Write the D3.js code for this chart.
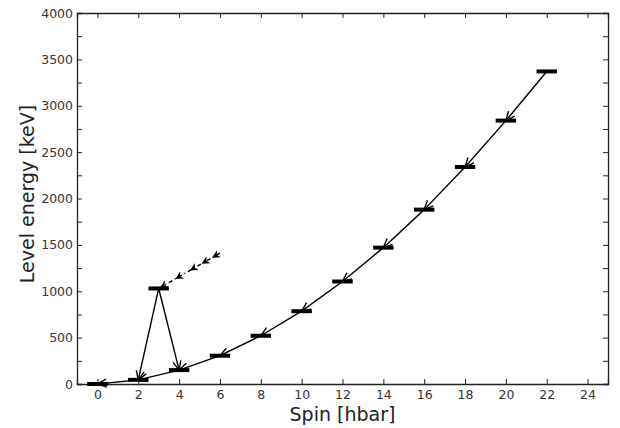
<!DOCTYPE html>
<html>
<head>
<meta charset="utf-8">
<script src="https://cdn.jsdelivr.net/npm/d3@7"></script>
<style>
  body { margin: 0; background: #fff; }
  svg text { font-family: "DejaVu Sans", sans-serif; }
</style>
</head>
<body>
<div id="content"></div>
<script>
// Yrast band levels (spin, energy in keV), top to bottom
var bandSpin = [22, 20, 18, 16, 14, 12, 10, 8, 6, 4, 2, 0];
var bandEnergy = [3370, 2840, 2340, 1880, 1470, 1105, 785, 520, 305, 150, 45, 0];

// Side level at spin 3 and where it decays to
var sideSpin = 3;
var sideEnergy = 1030;
var sideTargets = [2, 4];

// Dashed feeding into the side level (start point and arrow positions along it)
var feedStart = [6, 1410];
var feedArrowAt = [0.13, 0.3, 0.49, 0.73, 0.98];

var xTicks = d3.range(0, 25, 2);
var yTicks = d3.range(0, 4001, 250);

var W = 620, H = 428;
var margin = {left: 77, right: 12, top: 13, bottom: 44};

var svg = d3.select('#content').append('svg')
    .attr('width', W)
    .attr('height', H);

var x = d3.scaleLinear().domain([-1, 25]).range([margin.left, W - margin.right]);
var y = d3.scaleLinear().domain([0, 4000]).range([H - margin.bottom, margin.top]);

// open arrowhead for the gamma lines
var defs = svg.append('defs');
defs.append('marker')
    .attr('id', 'open')
    .attr('markerUnits', 'userSpaceOnUse')
    .attr('viewBox', '-10 -5 12 10')
    .attr('refX', 0).attr('refY', 0)
    .attr('markerWidth', 12).attr('markerHeight', 10)
    .attr('orient', 'auto')
    .append('path')
    .attr('d', 'M-9,-4 L0,0 L-9,4')
    .attr('fill', 'none')
    .attr('stroke', '#000')
    .attr('stroke-width', 1.4);

// axes (ticks point inward)
var gx = svg.append('g')
    .attr('transform', 'translate(0,' + y(0) + ')')
    .call(d3.axisBottom(x).tickValues(xTicks).tickSize(-5).tickPadding(6));
var gxTop = svg.append('g')
    .attr('transform', 'translate(0,' + y(4000) + ')')
    .call(d3.axisTop(x).tickValues(xTicks).tickSize(-5).tickFormat(''));
var gy = svg.append('g')
    .attr('transform', 'translate(' + x(-1) + ',0)')
    .call(d3.axisLeft(y).tickValues(yTicks).tickSize(-5).tickPadding(4)
        .tickFormat(function(d) { return d % 500 === 0 ? d : ''; }));
var gyRight = svg.append('g')
    .attr('transform', 'translate(' + x(25) + ',0)')
    .call(d3.axisRight(y).tickValues(yTicks).tickSize(-5).tickFormat(''));

[gx, gxTop, gy, gyRight].forEach(function(g) {
    g.select('.domain').attr('stroke', '#222').attr('stroke-width', 1.3);
    g.selectAll('.tick line').attr('stroke', '#222');
    g.selectAll('text').attr('font-size', 12.5).attr('fill', '#333')
        .attr('font-family', '"DejaVu Sans", sans-serif');
});

// axis titles
svg.append('text')
    .attr('x', (x(-1) + x(25)) / 2)
    .attr('y', 421)
    .attr('text-anchor', 'middle')
    .attr('font-size', 19)
    .attr('fill', '#222')
    .text('Spin [hbar]');
svg.append('text')
    .attr('transform', 'translate(34,194) rotate(-90)')
    .attr('text-anchor', 'middle')
    .attr('font-size', 19)
    .attr('fill', '#222')
    .text('Level energy [keV]');

// transitions in the band
var band = bandSpin.map(function(s, i) { return {spin: s, e: bandEnergy[i]}; });
var links = [];
for (var i = 0; i < band.length - 1; i++) {
    links.push({from: band[i], to: band[i + 1]});
}
sideTargets.forEach(function(t) {
    var j = bandSpin.indexOf(t);
    links.push({from: {spin: sideSpin, e: sideEnergy}, to: band[j]});
});

svg.selectAll('line.gamma')
    .data(links)
    .enter()
    .append('line')
    .attr('class', 'gamma')
    .attr('x1', function(d) { return x(d.from.spin); })
    .attr('y1', function(d) { return y(d.from.e); })
    .attr('x2', function(d) { return x(d.to.spin); })
    .attr('y2', function(d) { return y(d.to.e); })
    .attr('stroke', '#000')
    .attr('stroke-width', 1.4)
    .attr('marker-end', 'url(#open)');

// dashed feeding line with small arrowheads
var fx1 = x(feedStart[0]), fy1 = y(feedStart[1]);
var fx2 = x(sideSpin), fy2 = y(sideEnergy);
svg.append('line')
    .attr('x1', fx1).attr('y1', fy1)
    .attr('x2', fx2).attr('y2', fy2)
    .attr('stroke', '#000')
    .attr('stroke-width', 1.4)
    .attr('stroke-dasharray', '4,3,1,3');
var ang = Math.atan2(fy2 - fy1, fx2 - fx1) * 180 / Math.PI;
svg.selectAll('path.feed')
    .data(feedArrowAt)
    .enter()
    .append('path')
    .attr('class', 'feed')
    .attr('d', 'M0,0 L-8,-4 L-5.5,0 L-8,4 Z')
    .attr('transform', function(t) {
        return 'translate(' + (fx1 + t * (fx2 - fx1)) + ',' + (fy1 + t * (fy2 - fy1)) + ') rotate(' + ang + ')';
    })
    .attr('fill', '#000');

// level bars
var levels = band.concat([{spin: sideSpin, e: sideEnergy}]);
svg.selectAll('line.level')
    .data(levels)
    .enter()
    .append('line')
    .attr('class', 'level')
    .attr('x1', function(d) { return x(d.spin - 0.5); })
    .attr('x2', function(d) { return x(d.spin + 0.5); })
    .attr('y1', function(d) { return y(d.e); })
    .attr('y2', function(d) { return y(d.e); })
    .attr('stroke', '#000')
    .attr('stroke-width', 4);
</script>
</body>
</html>
